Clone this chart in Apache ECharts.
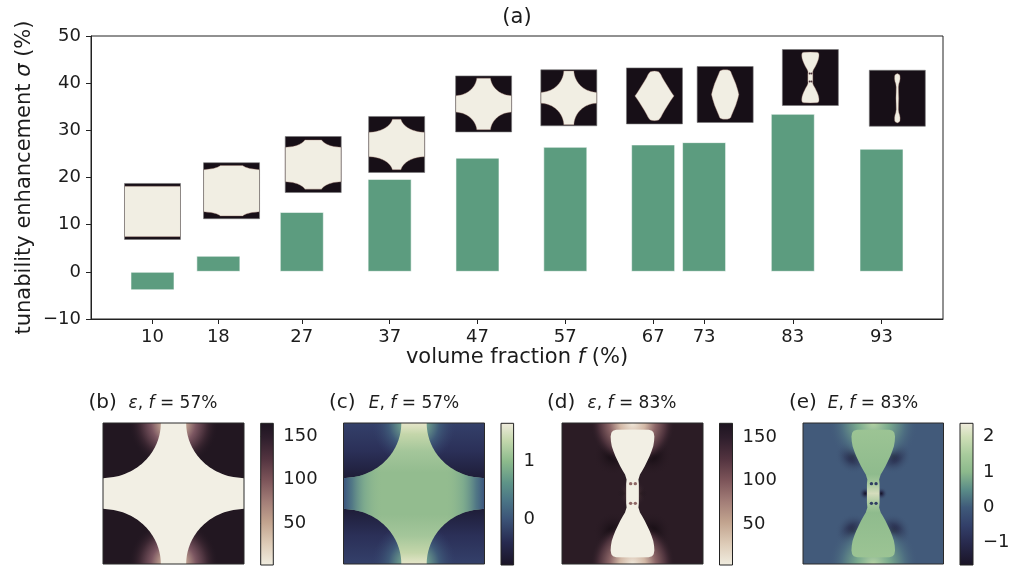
<!DOCTYPE html>
<html>
<head>
<meta charset="utf-8">
<script src="https://cdn.jsdelivr.net/npm/echarts@6/dist/echarts.min.js"></script>
<style>
  html, body { margin: 0; padding: 0; background: #fff; }
  #chart { width: 1009px; height: 569px; }
</style>
</head>
<body>
<div id="chart"></div>
<script>
// ---- data ----------------------------------------------------------------
// volume fraction f (%) of each unit cell, its tick label, and the tunability enhancement sigma (%)
const volumeFractions = [10, 17.5, 27, 37, 47, 57, 67, 72.8, 82.9, 93];
const fractionLabels = ['10', '18', '27', '37', '47', '57', '67', '73', '83', '93'];
const tunabilityEnhancement = [-3.9, 3.4, 12.7, 19.7, 24.2, 26.5, 27.0, 27.5, 33.5, 26.1];

// colorbar ranges and ticks of the field maps (b)-(e)
const permittivityRange57 = [2.2, 164.5];
const fieldRange57 = [-0.8, 1.67];
const permittivityRange83 = [2.7, 166.5];
const fieldRange83 = [-1.63, 2.38];
const permittivityTicks = [50, 100, 150];
const fieldTicks57 = [0, 1];
const fieldTicks83 = [-1, 0, 1, 2];

// ---- layout --------------------------------------------------------------
// centre of each unit-cell thumbnail, in axis units (f, sigma)
const insetCenters = [
  [10.0, 12.8], [19.0, 17.2], [28.3, 22.75], [37.8, 27.0], [47.7, 35.6],
  [57.4, 36.9], [67.15, 37.3], [75.2, 37.6], [84.9, 41.2], [94.8, 36.8]
];
const INSET_SIZE = 56;

// geometry of the low-permittivity (light) region of each unit cell.
// Either corner ellipses (rx, ry) plus an edge strip s, or a half-width profile
// [distance from the cell centre line, half width], symmetric in x and y.
const bowtieProfile = [[0, 0.045], [0.07, 0.045], [0.1, 0.042], [0.134, 0.053], [0.16, 0.068], [0.193, 0.087],
  [0.23, 0.105], [0.264, 0.121], [0.3, 0.135], [0.335, 0.147], [0.37, 0.153], [0.405, 0.155], [0.43, 0.15],
  [0.445, 0.138], [0.452, 0.115], [0.454, 0]];
const cellShapes = [
  { rx: 0, ry: 0, s: 0.05 },
  { rx: 0.33, ry: 0.12, s: 0.05 },
  { rx: 0.37, ry: 0.19, s: 0.06 },
  { rx: 0.43, ry: 0.28, s: 0.05 },
  { rx: 0.38, ry: 0.35, s: 0.04 },
  { rx: 0.41, ry: 0.40, s: 0.02 },
  { profile: [[0, 0.35], [0.04, 0.32], [0.1, 0.28], [0.18, 0.23], [0.26, 0.18], [0.33, 0.14], [0.38, 0.115], [0.41, 0.095], [0.43, 0.075], [0.44, 0.04], [0.443, 0]] },
  { profile: [[0, 0.245], [0.08, 0.225], [0.19, 0.19], [0.3, 0.145], [0.37, 0.115], [0.41, 0.1], [0.43, 0.08], [0.44, 0.04], [0.443, 0]] },
  { profile: bowtieProfile, dots: true },
  { profile: [[0, 0.025], [0.1, 0.022], [0.2, 0.02], [0.26, 0.028], [0.3, 0.042], [0.35, 0.05], [0.4, 0.048], [0.425, 0.035], [0.44, 0]] }
];
const starShape = { rx: 0.41, ry: 0.39, s: 0 };

// ---- styles --------------------------------------------------------------
const FONT = '"DejaVu Sans", sans-serif';
const INK = '#1c1c1c';
const DARK = '#170f17';
const CREAM = '#f1eee3';
const BAR = '#5c9c7f';

const permittivityStops = [
  { offset: 0, color: '#1d1420' }, { offset: 0.1, color: '#2e1e2c' }, { offset: 0.25, color: '#52333f' },
  { offset: 0.4, color: '#7c5459' }, { offset: 0.55, color: '#a27d77' }, { offset: 0.7, color: '#c2a48f' },
  { offset: 0.85, color: '#ddcbb7' }, { offset: 1, color: '#f0ecdf' }
];
const fieldStops57 = [
  { offset: 0, color: '#efebdc' }, { offset: 0.12, color: '#c4d8ad' }, { offset: 0.27, color: '#8cba8c' },
  { offset: 0.42, color: '#5e9488' }, { offset: 0.55, color: '#4a7486' }, { offset: 0.676, color: '#3c5478' },
  { offset: 0.84, color: '#272a50' }, { offset: 1, color: '#1a1426' }
];
const fieldStops83 = [
  { offset: 0, color: '#efebdc' }, { offset: 0.095, color: '#cfdfb7' }, { offset: 0.22, color: '#a8cb9c' },
  { offset: 0.344, color: '#8cb98c' }, { offset: 0.47, color: '#5a8c88' }, { offset: 0.594, color: '#3f5a7a' },
  { offset: 0.72, color: '#33406a' }, { offset: 0.843, color: '#282a4e' }, { offset: 1, color: '#1a1426' }
];

// ---- geometry helpers ----------------------------------------------------
function ellipseProfile(rx, ry, s) {
  const n = 60, pts = [], top = 0.5 - s;
  for (let k = 0; k <= n; k++) {
    const d = top * k / n, yy = 0.5 - d;
    let w = 0.5;
    if (rx > 0 && yy < ry) w = 0.5 - rx * Math.sqrt(Math.max(0, 1 - (yy / ry) * (yy / ry)));
    pts.push([d, w]);
  }
  pts.push([top, 0]);
  return pts;
}
function profileOf(shape) {
  return shape.profile || ellipseProfile(shape.rx, shape.ry, shape.s);
}
// closed outline (unit square, y downwards) of a shape symmetric in x and y
function outline(profile) {
  const right = [];
  for (let i = profile.length - 1; i >= 0; i--) right.push([0.5 + Math.min(profile[i][1], 0.5), 0.5 - profile[i][0]]);
  for (let i = 0; i < profile.length; i++) right.push([0.5 + Math.min(profile[i][1], 0.5), 0.5 + profile[i][0]]);
  const left = [];
  for (let i = right.length - 1; i >= 0; i--) left.push([1 - right[i][0], right[i][1]]);
  return right.concat(left);
}
const neckDots = [[0.487, 0.43], [0.52, 0.43], [0.487, 0.57], [0.52, 0.57]];

// ---- unit-cell thumbnails --------------------------------------------------
function renderInset(params, api) {
  const idx = api.value(2);
  const c = api.coord([api.value(0), api.value(1)]);
  const S = INSET_SIZE, x0 = c[0] - S / 2, y0 = c[1] - S / 2;
  const shape = cellShapes[idx];
  const pts = outline(profileOf(shape)).map(p => [x0 + p[0] * S, y0 + p[1] * S]);
  const children = [
    { type: 'rect', shape: { x: x0, y: y0, width: S, height: S }, style: { fill: DARK } },
    { type: 'polygon', shape: { points: pts }, style: { fill: CREAM, stroke: 'rgba(150,110,100,0.55)', lineWidth: 0.7 } }
  ];
  if (shape.dots) {
    neckDots.forEach(d => children.push({ type: 'circle', shape: { cx: x0 + d[0] * S, cy: y0 + d[1] * S, r: 1 }, style: { fill: '#4a3038' } }));
  }
  children.push({ type: 'rect', shape: { x: x0, y: y0, width: S, height: S }, style: { fill: null, stroke: 'rgba(120,120,120,0.6)', lineWidth: 1 } });
  return { type: 'group', children };
}

// ---- field maps ------------------------------------------------------------
function fullRect(box) { return { x: box.x, y: box.y, width: box.w, height: box.h }; }
function glow(box, cx, cy, r, stops) {
  return { type: 'rect', shape: fullRect(box), style: { fill: new echarts.graphic.RadialGradient(cx, cy, r, stops) } };
}
function frame(box) {
  return { type: 'rect', shape: fullRect(box), style: { fill: null, stroke: '#2a2a2a', lineWidth: 1 } };
}
function panelRenderer(draw) {
  return function (params, api) {
    const o = api.coord([0, 0]), e = api.coord([1, 1]);
    const box = { x: o[0], y: o[1], w: e[0] - o[0], h: e[1] - o[1] };
    const P = (u, v) => [box.x + u * box.w, box.y + v * box.h];
    return { type: 'group', children: draw(box, P) };
  };
}
function shapePoints(shape, P) { return outline(profileOf(shape)).map(p => P(p[0], p[1])); }

const drawPermittivity57 = (box, P) => {
  const neckGlow = [
    { offset: 0, color: '#efe6d6' }, { offset: 0.25, color: '#c7a996' }, { offset: 0.5, color: '#7a5560' },
    { offset: 0.75, color: '#3d2833' }, { offset: 1, color: 'rgba(34,23,33,0)' }
  ];
  return [
    { type: 'rect', shape: fullRect(box), style: { fill: '#221721' } },
    glow(box, 0.5, 0, 0.32, neckGlow),
    glow(box, 0.5, 1, 0.32, neckGlow),
    { type: 'polygon', shape: { points: shapePoints(starShape, P) }, style: { fill: '#f2efe4' } },
    frame(box)
  ];
};
const drawField57 = (box, P) => {
  const neckGlow = [
    { offset: 0, color: '#c8dcb0' }, { offset: 0.3, color: '#6e9e8e' }, { offset: 0.6, color: '#3f5a78' },
    { offset: 1, color: 'rgba(52,64,106,0)' }
  ];
  const pts = shapePoints(starShape, P);
  return [
    { type: 'rect', shape: fullRect(box), style: { fill: new echarts.graphic.LinearGradient(0, 0, 0, 1, [
      { offset: 0, color: '#34406a' }, { offset: 0.2, color: '#2b3058' }, { offset: 0.38, color: '#1f1e3a' },
      { offset: 0.62, color: '#1f1e3a' }, { offset: 0.8, color: '#2b3058' }, { offset: 1, color: '#34406a' }]) } },
    glow(box, 0.5, 0, 0.3, neckGlow),
    glow(box, 0.5, 1, 0.3, neckGlow),
    { type: 'polygon', shape: { points: pts }, style: { fill: new echarts.graphic.LinearGradient(0, 0, 0, 1, [
      { offset: 0, color: '#e6e6ca' }, { offset: 0.08, color: '#c4d6aa' }, { offset: 0.2, color: '#a4c69a' },
      { offset: 0.35, color: '#93bc8f' }, { offset: 0.65, color: '#93bc8f' }, { offset: 0.8, color: '#a4c69a' },
      { offset: 0.92, color: '#c4d6aa' }, { offset: 1, color: '#e6e6ca' }]) } },
    { type: 'polygon', shape: { points: pts }, style: { fill: new echarts.graphic.LinearGradient(0, 0, 1, 0, [
      { offset: 0, color: 'rgba(58,84,126,1)' }, { offset: 0.06, color: 'rgba(70,108,132,0.85)' },
      { offset: 0.15, color: 'rgba(100,150,140,0.45)' }, { offset: 0.28, color: 'rgba(147,188,143,0)' },
      { offset: 0.72, color: 'rgba(147,188,143,0)' }, { offset: 0.85, color: 'rgba(100,150,140,0.45)' },
      { offset: 0.94, color: 'rgba(70,108,132,0.85)' }, { offset: 1, color: 'rgba(58,84,126,1)' }]) } },
    frame(box)
  ];
};
const flankSpots = [[0.36, 0.23], [0.64, 0.23], [0.36, 0.77], [0.64, 0.77]];
const neckSpots = [[0.443, 0.5], [0.557, 0.5]];
const bowtieShape = { profile: bowtieProfile };

const drawPermittivity83 = (box, P) => {
  const bg = '#2b1c25';
  const edgeGlow = [
    { offset: 0, color: '#f0e8da' }, { offset: 0.3, color: '#d2b8a6' }, { offset: 0.55, color: '#8a6466' },
    { offset: 0.8, color: '#4a303a' }, { offset: 1, color: 'rgba(43,28,37,0)' }
  ];
  const shade = [{ offset: 0, color: '#120a10' }, { offset: 1, color: 'rgba(43,28,37,0)' }];
  const out = [{ type: 'rect', shape: fullRect(box), style: { fill: bg } }];
  flankSpots.forEach(s => out.push(glow(box, s[0], s[1], 0.14, shade)));
  neckSpots.forEach(s => out.push(glow(box, s[0], s[1], 0.05, shade)));
  out.push(glow(box, 0.5, 0.5, 0.1, [{ offset: 0, color: '#8a6466' }, { offset: 1, color: 'rgba(43,28,37,0)' }]));
  out.push(glow(box, 0.5, 0, 0.3, edgeGlow), glow(box, 0.5, 1, 0.3, edgeGlow));
  out.push({ type: 'polygon', shape: { points: shapePoints(bowtieShape, P) }, style: { fill: '#f2efe4' } });
  neckDots.forEach(d => { const c = P(d[0], d[1]); out.push({ type: 'circle', shape: { cx: c[0], cy: c[1], r: box.w * 0.012 }, style: { fill: '#8d6664' } }); });
  out.push(frame(box));
  return out;
};
const drawField83 = (box, P) => {
  const edgeGlow = [
    { offset: 0, color: '#b4d2a4' }, { offset: 0.35, color: '#7aaa8e' }, { offset: 0.7, color: '#4f7082' },
    { offset: 1, color: 'rgba(66,90,122,0)' }
  ];
  const shade = [{ offset: 0, color: '#161428' }, { offset: 0.3, color: '#2a3050' }, { offset: 1, color: 'rgba(66,90,122,0)' }];
  const out = [{ type: 'rect', shape: fullRect(box), style: { fill: '#425a7a' } }];
  flankSpots.forEach(s => out.push(glow(box, s[0], s[1], 0.13, shade)));
  neckSpots.forEach(s => out.push(glow(box, s[0], s[1], 0.045, shade)));
  out.push(glow(box, 0.5, 0, 0.32, edgeGlow), glow(box, 0.5, 1, 0.32, edgeGlow));
  out.push({ type: 'polygon', shape: { points: shapePoints(bowtieShape, P) }, style: { fill: new echarts.graphic.LinearGradient(0, 0, 0, 1, [
    { offset: 0, color: '#9cc494' }, { offset: 0.35, color: '#8fbb8d' }, { offset: 0.42, color: '#a6c89c' },
    { offset: 0.5, color: '#d4dcbc' }, { offset: 0.58, color: '#a6c89c' }, { offset: 0.65, color: '#8fbb8d' },
    { offset: 1, color: '#9cc494' }]) } });
  neckDots.forEach(d => { const c = P(d[0], d[1]); out.push({ type: 'circle', shape: { cx: c[0], cy: c[1], r: box.w * 0.012 }, style: { fill: '#2f3d62' } }); });
  out.push(frame(box));
  return out;
};

function colorbarRenderer(range, stops) {
  return function (params, api) {
    const a = api.coord([0, range[1]]), b = api.coord([1, range[0]]);
    const r = { x: a[0], y: a[1], width: b[0] - a[0], height: b[1] - a[1] };
    return { type: 'group', children: [
      { type: 'rect', shape: r, style: { fill: new echarts.graphic.LinearGradient(0, 0, 0, 1, stops) } },
      { type: 'rect', shape: r, style: { fill: null, stroke: '#222', lineWidth: 1 } }
    ] };
  };
}

// ---- axes ------------------------------------------------------------------
const minusFmt = v => (v < 0 ? '\u2212' + Math.abs(v) : String(v));
const tickText = { fontSize: 18, fontFamily: FONT, color: INK };

const panelBoxes = [
  { left: 103, top: 423, width: 141, height: 141 },
  { left: 343.5, top: 423, width: 141, height: 141 },
  { left: 562, top: 423, width: 141, height: 141 },
  { left: 803, top: 423, width: 140.5, height: 141 }
];
const colorbarBoxes = [
  { left: 260.7, top: 423.3, width: 12.6, height: 141.7 },
  { left: 501, top: 423.3, width: 12.6, height: 141.7 },
  { left: 719.5, top: 423.3, width: 13, height: 141.7 },
  { left: 960, top: 423.3, width: 13, height: 141.7 }
];
const colorbars = [
  { range: permittivityRange57, ticks: permittivityTicks, stops: permittivityStops },
  { range: fieldRange57, ticks: fieldTicks57, stops: fieldStops57 },
  { range: permittivityRange83, ticks: permittivityTicks, stops: permittivityStops },
  { range: fieldRange83, ticks: fieldTicks83, stops: fieldStops83 }
];
const panelDrawers = [drawPermittivity57, drawField57, drawPermittivity83, drawField83];

const grids = [{ left: 91, top: 36, width: 852, height: 283, show: true, borderColor: '#222', borderWidth: 1, backgroundColor: 'rgba(0,0,0,0)', outerBoundsMode: 'none' }];
panelBoxes.forEach(b => grids.push(Object.assign({ outerBoundsMode: 'none' }, b)));
colorbarBoxes.forEach(b => grids.push(Object.assign({ outerBoundsMode: 'none' }, b)));

const nameStyle = { fontSize: 21, fontFamily: FONT, color: INK, rich: { i: { fontSize: 21, fontFamily: FONT, fontStyle: 'italic', color: INK } } };
const xAxes = [{
  gridIndex: 0, type: 'value', min: 3, max: 100,
  axisLine: { show: true, onZero: false, lineStyle: { color: '#222', width: 1 } },
  axisTick: { show: true, customValues: volumeFractions, length: 5, inside: false, lineStyle: { color: '#222' } },
  axisLabel: { customValues: volumeFractions, formatter: v => fractionLabels[volumeFractions.indexOf(v)], margin: 9, ...tickText },
  splitLine: { show: false },
  name: 'volume fraction {i|f} (%)', nameLocation: 'middle', nameGap: 28, nameMoveOverlap: false,
  nameTextStyle: nameStyle
}];
const yAxes = [{
  gridIndex: 0, type: 'value', min: -10, max: 50, interval: 10,
  axisLine: { show: true, lineStyle: { color: '#222', width: 1 } },
  axisTick: { show: true, length: 5, inside: false, lineStyle: { color: '#222' } },
  axisLabel: { formatter: minusFmt, margin: 10, ...tickText },
  splitLine: { show: false },
  name: 'tunability enhancement {i|\u03c3} (%)', nameLocation: 'middle', nameGap: 56, nameRotate: 90, nameMoveOverlap: false,
  nameTextStyle: nameStyle
}];
panelBoxes.forEach((b, k) => {
  xAxes.push({ gridIndex: 1 + k, type: 'value', min: 0, max: 1, show: false });
  yAxes.push({ gridIndex: 1 + k, type: 'value', min: 0, max: 1, inverse: true, show: false });
});
colorbars.forEach((cb, k) => {
  xAxes.push({ gridIndex: 5 + k, type: 'value', min: 0, max: 1, show: false });
  yAxes.push({
    gridIndex: 5 + k, type: 'value', position: 'right', min: cb.range[0], max: cb.range[1],
    axisLine: { show: false }, splitLine: { show: false },
    axisTick: { show: true, customValues: cb.ticks, length: 5, inside: false, lineStyle: { color: '#222' } },
    axisLabel: { customValues: cb.ticks, formatter: minusFmt, margin: 10, ...tickText }
  });
});

// ---- series ----------------------------------------------------------------
const series = [
  {
    type: 'bar', xAxisIndex: 0, yAxisIndex: 0, barWidth: 44,
    data: volumeFractions.map((f, i) => [f, tunabilityEnhancement[i]]),
    itemStyle: { color: BAR, borderColor: 'rgba(255,255,255,0.55)', borderWidth: 1 },
    emphasis: { disabled: true }
  },
  {
    type: 'custom', xAxisIndex: 0, yAxisIndex: 0, clip: false, z: 5,
    data: insetCenters.map((c, i) => [c[0], c[1], i]),
    encode: { x: 0, y: 1 },
    renderItem: renderInset
  }
];
panelDrawers.forEach((draw, k) => series.push({
  type: 'custom', xAxisIndex: 1 + k, yAxisIndex: 1 + k, clip: false,
  data: [[0.5, 0.5]], renderItem: panelRenderer(draw)
}));
colorbars.forEach((cb, k) => series.push({
  type: 'custom', xAxisIndex: 5 + k, yAxisIndex: 5 + k, clip: false,
  data: [[0.5, cb.range[0]]], renderItem: colorbarRenderer(cb.range, cb.stops)
}));

// ---- titles ----------------------------------------------------------------
const subRich = {
  n: { fontSize: 17, fontFamily: FONT, color: INK },
  i: { fontSize: 17, fontFamily: FONT, fontStyle: 'italic', color: INK }
};
function panelLabel(x, text) {
  return { type: 'text', x, y: 403, style: { text, font: '20px "DejaVu Sans"', fill: INK, align: 'left', verticalAlign: 'middle' } };
}
function panelSubtitle(cx, text) {
  return { type: 'text', x: cx, y: 404, style: { text, rich: subRich, font: '17px "DejaVu Sans"', fill: INK, align: 'center', verticalAlign: 'middle' } };
}

const option = {
  animation: false,
  backgroundColor: '#ffffff',
  grid: grids,
  xAxis: xAxes,
  yAxis: yAxes,
  series,
  graphic: [
    { type: 'text', x: 517, y: 18, style: { text: '(a)', font: '21px "DejaVu Sans"', fill: INK, align: 'center', verticalAlign: 'middle' } },
    panelLabel(88.5, '(b)'), panelSubtitle(173, '{i|\u03b5}{n|, }{i|f}{n| = 57%}'),
    panelLabel(329, '(c)'), panelSubtitle(414, '{i|E}{n|, }{i|f}{n| = 57%}'),
    panelLabel(547, '(d)'), panelSubtitle(632, '{i|\u03b5}{n|, }{i|f}{n| = 83%}'),
    panelLabel(789, '(e)'), panelSubtitle(873, '{i|E}{n|, }{i|f}{n| = 83%}')
  ]
};

const chart = echarts.init(document.getElementById('chart'));
chart.setOption(option);
</script>
</body>
</html>
